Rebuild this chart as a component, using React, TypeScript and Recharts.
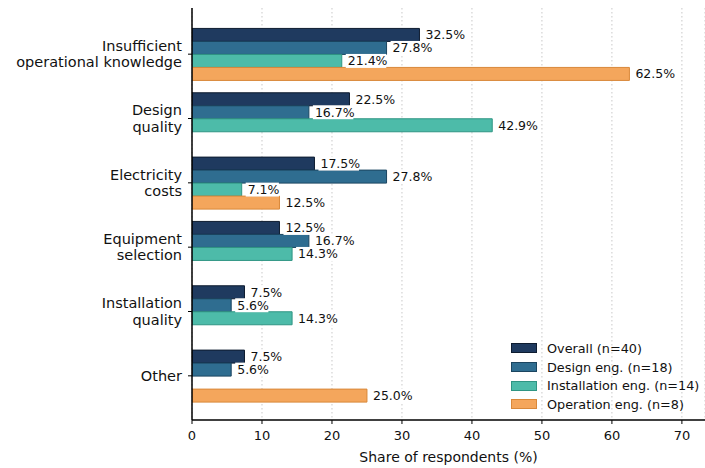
import React from "react";
import {
  BarChart,
  Bar,
  XAxis,
  YAxis,
  CartesianGrid,
  LabelList,
} from "recharts";

const categories = [
  "Insufficient\noperational knowledge",
  "Design\nquality",
  "Electricity\ncosts",
  "Equipment\nselection",
  "Installation\nquality",
  "Other",
];

const overall = [32.5, 22.5, 17.5, 12.5, 7.5, 7.5];
const designEng = [27.8, 16.7, 27.8, 16.7, 5.6, 5.6];
const installEng = [21.4, 42.9, 7.1, 14.3, 14.3, null];
const operationEng = [62.5, null, 12.5, null, null, 25.0];

const xTicks = [0, 10, 20, 30, 40, 50, 60, 70];

const series = [
  { key: "overall", name: "Overall (n=40)", fill: "#1f3a5f", stroke: "#0e1c30" },
  { key: "design", name: "Design eng. (n=18)", fill: "#2f6d90", stroke: "#1b4560" },
  { key: "install", name: "Installation eng. (n=14)", fill: "#4dbba9", stroke: "#2f9583" },
  { key: "operation", name: "Operation eng. (n=8)", fill: "#f4a65c", stroke: "#d9883a" },
];

const data = categories.map((c, i) => ({
  category: c,
  overall: overall[i],
  design: designEng[i],
  install: installEng[i],
  operation: operationEng[i],
}));

const FONT = "DejaVu Sans, sans-serif";

function CategoryTick({ x, y, payload }: any) {
  const lines = String(payload.value).split("\n");
  const lh = 16.5;
  const start = -((lines.length - 1) * lh) / 2;
  const tx = x - 4;
  return (
    <text x={tx} y={y} textAnchor="end" fontSize={14.5} fontFamily={FONT} fill="#111">
      {lines.map((l: string, i: number) => (
        <tspan key={i} x={tx} dy={i === 0 ? start + 5 : lh}>
          {l}
        </tspan>
      ))}
    </text>
  );
}

function ValueLabel({ x, y, width, height, value }: any) {
  if (value === null || value === undefined) return null;
  const text = `${Number(value).toFixed(1)}%`;
  const tx = x + width + 6;
  const cy = y + height / 2;
  const w = text.length * 7.3 + 4;
  return (
    <g>
      <rect x={tx - 2} y={cy - 7} width={w} height={14} fill="#fff" />
      <text x={tx} y={cy + 4.5} fontSize={12.5} fontFamily={FONT} fill="#111">
        {text}
      </text>
    </g>
  );
}

function LegendBox() {
  return (
    <div
      style={{
        position: "absolute",
        left: 511,
        top: 339,
        width: 194,
        fontFamily: FONT,
        fontSize: 12.8,
        color: "#111",
        whiteSpace: "nowrap",
      }}
    >
      {series.map((s) => (
        <div key={s.key} style={{ display: "flex", alignItems: "center", height: 18.7 }}>
          <span
            style={{
              display: "inline-block",
              flex: "0 0 auto",
              width: 24,
              height: 8,
              background: s.fill,
              border: `1px solid ${s.stroke}`,
              marginRight: 10,
            }}
          />
          <span>{s.name}</span>
        </div>
      ))}
    </div>
  );
}

export default function App() {
  return (
    <div style={{ position: "relative", width: 705, height: 468, background: "#fff" }}>
      <style>{`body{margin:0}`}</style>
      <BarChart
        width={705}
        height={468}
        data={data}
        layout="vertical"
        margin={{ top: 8, right: 0, bottom: 0, left: 0 }}
        barGap={0}
        barCategoryGap="10%"
      >
        <CartesianGrid
          horizontal={false}
          vertical
          stroke="#c8c8c8"
          strokeDasharray="1.5 2.5"
        />
        <XAxis
          type="number"
          domain={[0, 73.3]}
          ticks={xTicks}
          allowDataOverflow
          height={48}
          axisLine={{ stroke: "#000", strokeWidth: 1.3 }}
          tickLine={{ stroke: "#000" }}
          tickSize={4}
          tickMargin={7}
          tick={{ fontSize: 13, fontFamily: FONT, fill: "#111" }}
          label={{
            value: "Share of respondents (%)",
            position: "insideBottom",
            offset: 6,
            fontSize: 14,
            fontFamily: FONT,
            fill: "#111",
          }}
        />
        <YAxis
          type="category"
          dataKey="category"
          width={192}
          padding={{ top: 14, bottom: 12 }}
          axisLine={{ stroke: "#000", strokeWidth: 1.5 }}
          tickLine={{ stroke: "#000" }}
          tickSize={4}
          tick={<CategoryTick />}
          interval={0}
        />
        {series.map((s) => (
          <Bar
            key={s.key}
            dataKey={s.key}
            name={s.name}
            fill={s.fill}
            stroke={s.stroke}
            strokeWidth={1}
            isAnimationActive={false}
          >
            <LabelList dataKey={s.key} content={<ValueLabel />} />
          </Bar>
        ))}
      </BarChart>
      <LegendBox />
    </div>
  );
}
